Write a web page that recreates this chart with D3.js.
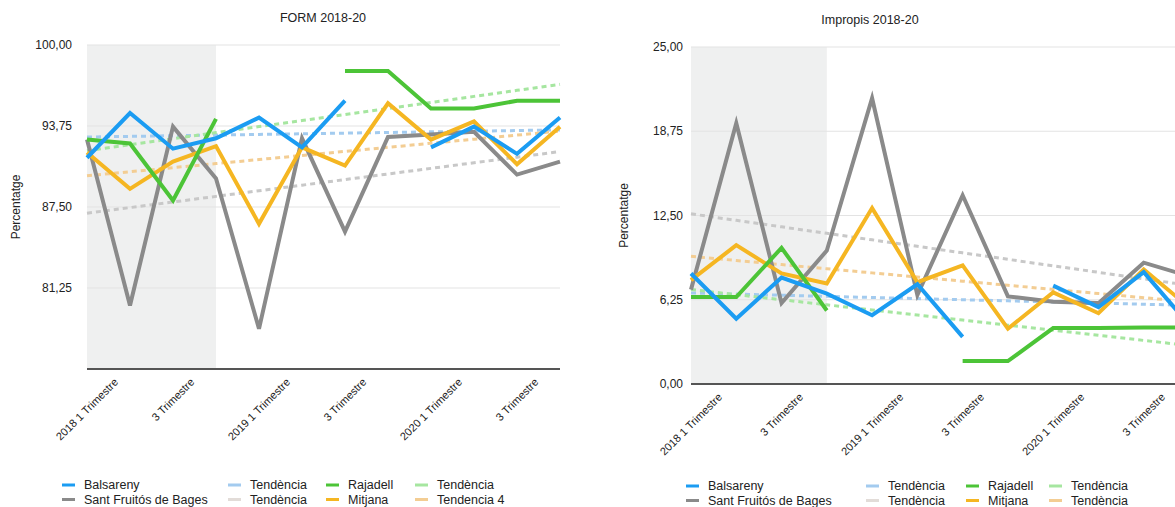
<!DOCTYPE html>
<html>
<head>
<meta charset="utf-8">
<script src="https://cdn.jsdelivr.net/npm/d3@7/dist/d3.min.js"></script>
<style>
  body { margin: 0; background: #fff; }
  svg text { font-family: "Liberation Sans", Arial, Helvetica, sans-serif; fill: #222; }
</style>
</head>
<body>
<div id="chart"></div>
<script>
// trimestres 2018-2020
var quarters = ["2018 T1","2018 T2","2018 T3","2018 T4","2019 T1","2019 T2","2019 T3","2019 T4","2020 T1","2020 T2","2020 T3","2020 T4"];
var quarterLabels = ["2018 1 Trimestre","","3 Trimestre","","2019 1 Trimestre","","3 Trimestre","","2020 1 Trimestre","","3 Trimestre",""];

// FORM 2018-20
var formBalsareny    = [91.3, 94.75, 92.0, 92.8, 94.4, 92.1, 95.7, null, 92.1, 93.7, 91.6, 94.4];
var formSantFruitos  = [92.7, 79.9, 93.7, 89.7, 78.1, 92.8, 85.6, 92.9, 93.1, 93.3, 90.0, 91.0];
var formRajadell     = [92.7, 92.4, 88.0, 94.3, null, null, 98.0, 98.0, 95.1, 95.1, 95.7, 95.7];
var formMitjana      = [91.7, 88.9, 91.0, 92.2, 86.2, 92.1, 90.7, 95.5, 92.7, 94.1, 90.8, 93.7];
var formTicks        = [100, 93.75, 87.5, 81.25];

// Impropis 2018-20
var impBalsareny     = [8.2, 4.85, 7.9, 6.7, 5.1, 7.4, 3.5, null, 7.3, 5.7, 8.3, 4.4];
var impSantFruitos   = [7.0, 19.35, 6.0, 9.9, 21.2, 6.6, 14.0, 6.5, 6.1, 6.0, 9.0, 8.0];
var impRajadell      = [6.45, 6.45, 10.1, 5.45, null, null, 1.7, 1.7, 4.15, 4.15, 4.2, 4.2];
var impMitjana       = [7.7, 10.3, 8.2, 7.45, 13.05, 7.55, 8.8, 4.1, 6.8, 5.25, 8.5, 5.7];
var impTicks         = [25, 18.75, 12.5, 6.25, 0];

var formLegend   = ["Balsareny","Sant Fruitós de Bages","Tendència","Tendència","Rajadell","Mitjana","Tendència","Tendencia 4"];
var impLegend    = ["Balsareny","Sant Fruitós de Bages","Tendència","Tendència","Rajadell","Mitjana","Tendència","Tendència"];

var COLORS = {
    line:  ["#1b9cf2","#8a8a8a","#4cc437","#f5b622"],
    trend: ["#a3cbef","#c8c8c8","#a6e6a0","#f3cd93"],
    legTrend: ["#a3cbef","#e2dcd8","#a6e6a0","#f3cd93"]
};

var W = 1175, H = 507;
var svg = d3.select("#chart").append("svg").attr("width", W).attr("height", H);

var locale = d3.formatLocale({decimal: ",", thousands: ".", grouping: [3], currency: ["", "€"]});
var fmt = locale.format(".2f");

// recta de regressio (minims quadrats) sobre els punts no nuls
function trend(values) {
    var pts = [];
    values.forEach(function (v, i) { if (v != null) pts.push([i, v]); });
    var mx = d3.mean(pts, function (p) { return p[0]; });
    var my = d3.mean(pts, function (p) { return p[1]; });
    var sxy = d3.sum(pts, function (p) { return (p[0] - mx) * (p[1] - my); });
    var sxx = d3.sum(pts, function (p) { return (p[0] - mx) * (p[0] - mx); });
    var b = sxy / sxx, a = my - b * mx;
    return values.map(function (v, i) { return a + b * i; });
}

function drawChart(o) {
    var g = svg.append("g");
    var x = d3.scalePoint().domain(quarters).range([o.left, o.right]);
    var y = d3.scaleLinear().domain(o.domain).range([o.bottom, o.top]);

    // zona ombrejada (2018)
    g.append("rect")
        .attr("x", x(quarters[0]))
        .attr("y", y(o.domain[1]))
        .attr("width", x(quarters[3]) - x(quarters[0]))
        .attr("height", y(o.domain[0]) - y(o.domain[1]))
        .style("fill", "#eff0f0");

    // graella
    g.append("g").selectAll("line").data(o.ticks).enter().append("line")
        .attr("x1", o.left).attr("x2", o.right)
        .attr("y1", function (d) { return y(d); })
        .attr("y2", function (d) { return y(d); })
        .style("stroke", "#e3e3e3").style("stroke-width", 1);

    // etiquetes eix y
    g.append("g").selectAll("text").data(o.ticks).enter().append("text")
        .attr("x", o.left - o.tickPad)
        .attr("y", function (d) { return y(d); })
        .attr("dy", "0.35em")
        .attr("text-anchor", "end")
        .style("font-size", "12px")
        .text(function (d) { return fmt(d); });

    // titol eix y
    g.append("text")
        .attr("transform", "translate(" + o.yLabelX + "," + ((o.top + o.bottom) / 2) + ") rotate(-90)")
        .attr("text-anchor", "middle")
        .style("font-size", "12px")
        .text("Percentatge");

    // titol
    g.append("text")
        .attr("x", o.titleX).attr("y", o.titleY)
        .attr("text-anchor", "middle")
        .style("font-size", "12.5px")
        .text(o.title);

    var line = d3.line()
        .defined(function (d) { return d != null; })
        .x(function (d, i) { return x(quarters[i]); })
        .y(function (d) { return y(d); });

    // tendencies
    o.series.forEach(function (s, k) {
        g.append("path")
            .attr("d", line(trend(s)))
            .style("fill", "none")
            .style("stroke", COLORS.trend[k])
            .style("stroke-width", 3)
            .style("stroke-dasharray", "5,4");
    });

    // series: ordre de dibuix gris, taronja, verd, blau
    [1, 3, 2, 0].forEach(function (k) {
        g.append("path")
            .attr("d", line(o.series[k]))
            .style("fill", "none")
            .style("stroke", COLORS.line[k])
            .style("stroke-width", 4)
            .style("stroke-linejoin", "miter");
    });

    // eix x
    g.append("line")
        .attr("x1", o.left).attr("x2", o.right)
        .attr("y1", o.bottom).attr("y2", o.bottom)
        .style("stroke", "#555").style("stroke-width", 2);

    // etiquetes eix x, girades 45 graus i centrades sobre la marca
    var idxs = d3.range(quarters.length).filter(function (i) { return quarterLabels[i] !== ""; });
    g.append("g").selectAll("text").data(idxs).enter().append("text")
        .style("font-size", "11px")
        .attr("text-anchor", "end")
        .attr("dy", "0.35em")
        .text(function (i) { return quarterLabels[i]; })
        .each(function (i) {
            var hw = this.getComputedTextLength() * Math.SQRT1_2 / 2;
            d3.select(this).attr("transform",
                "translate(" + (x(quarters[i]) + hw) + "," + (o.bottom + 11) + ") rotate(-45)");
        });

    // llegenda
    var leg = g.append("g");
    o.legend.forEach(function (txt, i) {
        var col = Math.floor(i / 2), row = i % 2;
        var k = [0, 1, 0, 1, 2, 3, 2, 3][i];
        var isTrend = (col === 1 || col === 3);
        var lx = o.legCols[col], ly = o.legY + row * 14.5;
        leg.append("line")
            .attr("x1", lx).attr("x2", lx + 13)
            .attr("y1", ly).attr("y2", ly)
            .style("stroke", isTrend ? COLORS.legTrend[k] : COLORS.line[k])
            .style("stroke-width", 3);
        leg.append("text")
            .attr("x", lx + 22).attr("y", ly)
            .attr("dy", "0.35em")
            .style("font-size", "12.5px")
            .text(txt);
    });
}

drawChart({
    title: "FORM 2018-20", titleX: 323, titleY: 22,
    left: 87, right: 560, top: 45, bottom: 369,
    domain: [75, 100], ticks: formTicks, tickPad: 15, yLabelX: 20,
    series: [formBalsareny, formSantFruitos, formRajadell, formMitjana],
    legend: formLegend, legCols: [62, 228, 326, 415], legY: 485
});

drawChart({
    title: "Impropis 2018-20", titleX: 870, titleY: 24,
    left: 691, right: 1189, top: 47, bottom: 384,
    domain: [0, 25], ticks: impTicks, tickPad: 8, yLabelX: 628,
    series: [impBalsareny, impSantFruitos, impRajadell, impMitjana],
    legend: impLegend, legCols: [686, 866, 966, 1049], legY: 486
});
</script>
</body>
</html>
